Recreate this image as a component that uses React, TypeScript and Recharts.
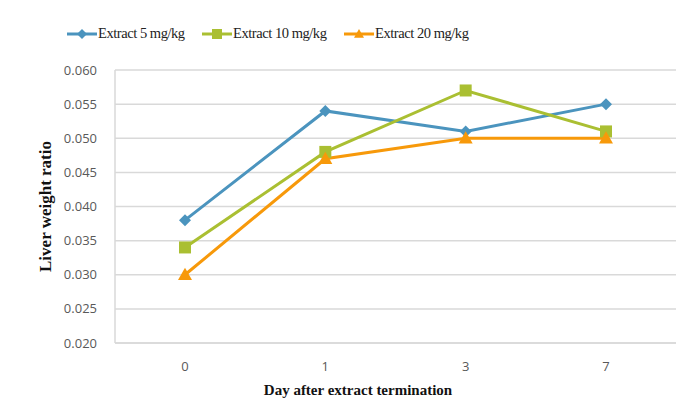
import { LineChart, Line, XAxis, YAxis, CartesianGrid } from "recharts";

const days = ["0", "1", "3", "7"];
const extract5 = [0.038, 0.054, 0.051, 0.055];
const extract10 = [0.034, 0.048, 0.057, 0.051];
const extract20 = [0.03, 0.047, 0.05, 0.05];
const yTicks = [0.02, 0.025, 0.03, 0.035, 0.04, 0.045, 0.05, 0.055, 0.06];

const BLUE = "#4B94BE";
const GREEN = "#AABF32";
const ORANGE = "#F7990A";

const data = days.map((day, i) => ({
  day,
  e5: extract5[i],
  e10: extract10[i],
  e20: extract20[i],
}));

const Diamond = ({ cx, cy, color, r = 6 }: any) => (
  <path
    d={`M${cx},${cy - r} L${cx + r},${cy} L${cx},${cy + r} L${cx - r},${cy} Z`}
    fill={color}
  />
);
const Square = ({ cx, cy, color, r = 6 }: any) => (
  <rect x={cx - r} y={cy - r} width={r * 2} height={r * 2} fill={color} />
);
const Triangle = ({ cx, cy, color, r = 7 }: any) => (
  <path
    d={`M${cx},${cy - r} L${cx + r},${cy + r * 0.75} L${cx - r},${cy + r * 0.75} Z`}
    fill={color}
  />
);

const legendItems = [
  { name: "Extract 5 mg/kg", color: BLUE, Marker: Diamond, left: 59 },
  { name: "Extract 10 mg/kg", color: GREEN, Marker: Square, left: 194 },
  { name: "Extract 20 mg/kg", color: ORANGE, Marker: Triangle, left: 336 },
];

const tickStyle = { fontSize: 13, fill: "#595959", fontFamily: "'Open Sans', sans-serif" };

export default function App() {
  return (
    <div
      style={{
        position: "relative",
        width: 688,
        height: 412,
        border: "2px solid #d6d6d6",
        marginLeft: -2,
        marginTop: -2,
        background: "#fff",
      }}
    >
      {legendItems.map(({ name, color, Marker, left }) => (
        <div
          key={name}
          style={{
            position: "absolute",
            top: 17,
            left,
            display: "flex",
            alignItems: "center",
            fontFamily: "'Liberation Serif', serif",
            fontSize: 14.5,
            letterSpacing: -0.45,
            color: "#222",
            whiteSpace: "nowrap",
          }}
        >
          <svg width={30} height={16}>
            <line x1={0} y1={8} x2={30} y2={8} stroke={color} strokeWidth={3} />
            <Marker cx={15} cy={8} color={color} r={5} />
          </svg>
          <span style={{ marginLeft: 1 }}>{name}</span>
        </div>
      ))}
      <LineChart
        width={688}
        height={410}
        data={data}
        margin={{ top: 62, right: 20, bottom: 15, left: 47 }}
      >
        <CartesianGrid vertical={false} stroke="#d9d9d9" strokeWidth={1.5} />
        <XAxis
          dataKey="day"
          padding={{ left: 70, right: 70 }}
          axisLine={{ stroke: "#d9d9d9", strokeWidth: 1.5 }}
          tickLine={false}
          tickMargin={13}
          height={60}
          tick={tickStyle}
          label={{
            content: (props: any) => {
              const vb = props.viewBox;
              return (
                <text
                  x={vb.x + 243}
                  y={vb.y + 52}
                  textAnchor="middle"
                  fontFamily="'Liberation Serif', serif"
                  fontWeight="bold"
                  fontSize={15}
                  fill="#111"
                >
                  Day after extract termination
                </text>
              );
            },
          }}
        />
        <YAxis
          domain={[0.02, 0.06]}
          ticks={yTicks}
          interval={0}
          tickFormatter={(v: number) => v.toFixed(3)}
          axisLine={{ stroke: "#d9d9d9", strokeWidth: 1.5 }}
          tickLine={false}
          tickMargin={12}
          width={60}
          tick={tickStyle}
          label={{
            content: (props: any) => {
              const vb = props.viewBox;
              const x = vb.x - 10;
              const y = vb.y + vb.height / 2;
              return (
                <text
                  x={x}
                  y={y}
                  transform={`rotate(-90, ${x}, ${y})`}
                  textAnchor="middle"
                  dominantBaseline="central"
                  fontFamily="'Liberation Serif', serif"
                  fontWeight="bold"
                  fontSize={17}
                  fill="#111"
                >
                  Liver weight ratio
                </text>
              );
            },
          }}
        />
        <Line
          dataKey="e5"
          name="Extract 5 mg/kg"
          stroke={BLUE}
          strokeWidth={3}
          isAnimationActive={false}
          dot={(p: any) => <Diamond key={p.index} cx={p.cx} cy={p.cy} color={BLUE} r={6} />}
        />
        <Line
          dataKey="e10"
          name="Extract 10 mg/kg"
          stroke={GREEN}
          strokeWidth={3}
          isAnimationActive={false}
          dot={(p: any) => <Square key={p.index} cx={p.cx} cy={p.cy} color={GREEN} r={6} />}
        />
        <Line
          dataKey="e20"
          name="Extract 20 mg/kg"
          stroke={ORANGE}
          strokeWidth={3}
          isAnimationActive={false}
          dot={(p: any) => <Triangle key={p.index} cx={p.cx} cy={p.cy} color={ORANGE} r={7} />}
        />
      </LineChart>
    </div>
  );
}
